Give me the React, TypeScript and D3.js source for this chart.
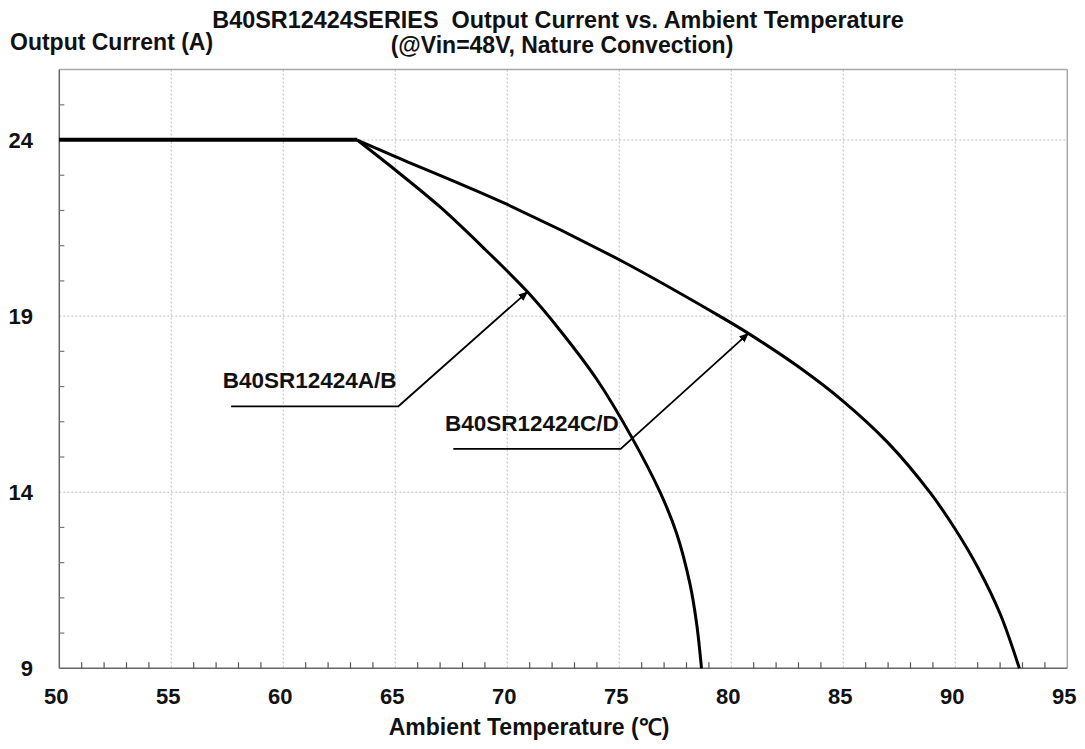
import React from "react";
import * as d3 from "d3";

const xTicks = [50, 55, 60, 65, 70, 75, 80, 85, 90, 95];
const yTicks = [9, 14, 19, 24];

const tempA = [50, 63.3, 65, 67, 69, 70.9, 72.35, 74, 75.52, 76.82, 77.56, 78.15, 78.45, 78.67];
const currA = [24, 24, 23.15, 22.1, 20.9, 19.69, 18.6, 17.2, 15.6, 14.0, 12.83, 11.41, 10.28, 9.0];

const tempB = [50, 63.3, 65, 70, 75, 79.48, 80.76, 83, 85, 87, 88.86, 90, 91, 92, 92.86];
const currB = [24, 24, 23.53, 22.17, 20.6, 19.0, 18.51, 17.56, 16.58, 15.4, 14.0, 12.95, 11.87, 10.55, 9.0];

const labelA = "B40SR12424A/B";
const leaderAx = [57.67, 65.14, 70.9];
const leaderAy = [16.44, 16.44, 19.69];

const labelB = "B40SR12424C/D";
const leaderBx = [67.59, 75.06, 80.76];
const leaderBy = [15.23, 15.23, 18.51];

const title1 = "B40SR12424SERIES  Output Current vs. Ambient Temperature";
const title2 = "(@Vin=48V, Nature Convection)";
const yTitle = "Output Current (A)";
const xTitle = "Ambient Temperature (\u2103)";

const W = 1085;
const H = 749;
const FONT = "'Liberation Sans', Arial, Helvetica, sans-serif";

export default function App() {
  const x = d3.scaleLinear().domain([50, 95]).range([59.3, 1067.3]);
  const y = d3.scaleLinear().domain([9, 26]).range([668.3, 69.6]);

  const minorX = d3.range(51, 95, 1).filter((v) => v % 5 !== 0);
  const minorY = d3.range(10, 26, 1).filter((v) => (v - 9) % 5 !== 0);

  const seriesPath = (ts: number[], cs: number[]) => {
    const pts: [number, number][] = ts.map((t, i) => [x(t), y(cs[i])]);
    const flat = `M${pts[0][0]},${pts[0][1]}L${pts[1][0]},${pts[1][1]}`;
    const curve = d3.line().curve(d3.curveCatmullRom.alpha(0.5))(pts.slice(1)) || "";
    return flat + curve;
  };

  const leader = (lx: number[], ly: number[]) =>
    d3.line()(lx.map((v, i) => [x(v), y(ly[i])] as [number, number])) || "";

  const [x0, x1] = x.range();
  const [y0, y1] = y.range();

  return (
    <svg
      width={W}
      height={H}
      style={{ position: "absolute", left: 0, top: 0, background: "#fff" }}
      fontFamily={FONT}
    >
      <defs>
        <marker
          id="arr"
          viewBox="0 0 10 10"
          refX="9"
          refY="5"
          markerWidth="10"
          markerHeight="10"
          markerUnits="userSpaceOnUse"
          orient="auto"
        >
          <path d="M0,1 L10,5 L0,9 Z" fill="#000" />
        </marker>
      </defs>
      <rect x={0} y={0} width={W} height={H} fill="#fff" />

      {/* grid */}
      {xTicks.slice(1, -1).map((t) => (
        <line
          key={"gx" + t}
          x1={x(t)}
          x2={x(t)}
          y1={y1}
          y2={y0}
          stroke="#bdbdbd"
          strokeWidth={1}
          strokeDasharray="2,2"
        />
      ))}
      {yTicks.slice(1).map((t) => (
        <line
          key={"gy" + t}
          x1={x0}
          x2={x1}
          y1={y(t)}
          y2={y(t)}
          stroke="#bdbdbd"
          strokeWidth={1}
          strokeDasharray="2,2"
        />
      ))}

      {/* frame */}
      <line x1={x0} x2={x1} y1={y1} y2={y1} stroke="#a8a8a8" strokeWidth={1.5} />
      <line x1={x1} x2={x1} y1={y1} y2={y0} stroke="#a8a8a8" strokeWidth={1.5} />
      <line x1={x0} x2={x0} y1={y1} y2={y0} stroke="#666" strokeWidth={1.5} />
      <line x1={x0} x2={x1} y1={y0} y2={y0} stroke="#666" strokeWidth={1.5} />

      {/* minor ticks */}
      {minorX.map((t) => (
        <line key={"mx" + t} x1={x(t)} x2={x(t)} y1={y0} y2={y0 - 6} stroke="#555" strokeWidth={1.2} />
      ))}
      {minorY.map((t) => (
        <line key={"my" + t} x1={x0} x2={x0 + 5} y1={y(t)} y2={y(t)} stroke="#777" strokeWidth={1.2} />
      ))}

      {/* curves */}
      <path d={seriesPath(tempB, currB)} fill="none" stroke="#000" strokeWidth={3} />
      <path d={seriesPath(tempA, currA)} fill="none" stroke="#000" strokeWidth={3} />
      <line x1={x(tempA[0])} x2={x(tempA[1])} y1={y(24) - 0.8} y2={y(24) - 0.8} stroke="#000" strokeWidth={3} />

      {/* leaders */}
      <path d={leader(leaderAx, leaderAy)} fill="none" stroke="#000" strokeWidth={1.8} markerEnd="url(#arr)" />
      <path d={leader(leaderBx, leaderBy)} fill="none" stroke="#000" strokeWidth={1.8} markerEnd="url(#arr)" />
      <text x={222.7} y={388.3} fontSize={22.5} fontWeight="bold" fill="#111">
        {labelA}
      </text>
      <text x={445} y={430.7} fontSize={22.5} fontWeight="bold" fill="#111">
        {labelB}
      </text>

      {/* tick labels */}
      {xTicks.map((t) => (
        <text key={"xl" + t} x={x(t) - 3} y={704} fontSize={22} fontWeight="bold" textAnchor="middle" fill="#111">
          {t}
        </text>
      ))}
      {yTicks.map((t) => (
        <text key={"yl" + t} x={33} y={y(t) + 8} fontSize={22} fontWeight="bold" textAnchor="end" fill="#111">
          {t}
        </text>
      ))}

      {/* titles */}
      <text x={558} y={28} fontSize={23.4} fontWeight="bold" textAnchor="middle" fill="#111" xmlSpace="preserve">
        {title1}
      </text>
      <text x={562} y={53} fontSize={23} fontWeight="bold" textAnchor="middle" fill="#111">
        {title2}
      </text>
      <text x={10} y={50} fontSize={23} fontWeight="bold" fill="#111">
        {yTitle}
      </text>
      <text x={529} y={735} fontSize={23} fontWeight="bold" textAnchor="middle" fill="#111">
        {xTitle}
      </text>
    </svg>
  );
}
